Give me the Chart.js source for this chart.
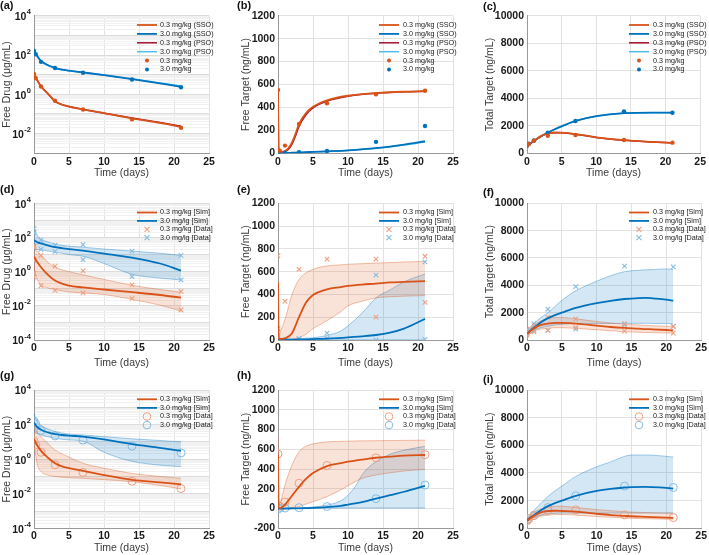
<!DOCTYPE html>
<html><head><meta charset="utf-8">
<script src="https://cdn.jsdelivr.net/npm/chart.js@4.4.1/dist/chart.umd.min.js"></script>
<style>
html,body{margin:0;padding:0;background:#fff;}
#wrap{position:relative;width:709px;height:555px;overflow:hidden;background:#fff;}
canvas{position:absolute;}
</style></head><body><div id="wrap">
<canvas id="ca" width="235" height="185" style="left:0;top:0"></canvas>
<canvas id="cb" width="235" height="185" style="left:235px;top:0"></canvas>
<canvas id="cc" width="239" height="185" style="left:470px;top:0"></canvas>
<canvas id="cd" width="235" height="185" style="left:0;top:185px"></canvas>
<canvas id="ce" width="235" height="185" style="left:235px;top:185px"></canvas>
<canvas id="cf" width="239" height="185" style="left:470px;top:185px"></canvas>
<canvas id="cg" width="235" height="185" style="left:0;top:370px"></canvas>
<canvas id="ch" width="235" height="185" style="left:235px;top:370px"></canvas>
<canvas id="ci" width="239" height="185" style="left:470px;top:370px"></canvas>
</div>
<script>
// ---------------- DATA ----------------
const xTickVals = [0, 5, 10, 15, 20, 25];
const targetTicks = [0, 200, 400, 600, 800, 1000, 1200];
const targetTicksH = [-200, 0, 200, 400, 600, 800, 1000, 1200];
const totalTicks = [0, 2000, 4000, 6000, 8000, 10000];
const logLabelExps = [4, 2, 0, -2, -4];

const panelLabels = ['(a)', '(b)', '(c)', '(d)', '(e)', '(f)', '(g)', '(h)', '(i)'];
const yTitles = ['Free Drug (\u03bcg/mL)', 'Free Target (ng/mL)', 'Total Target (ng/mL)'];
const xTitle = 'Time (days)';
const legendRow1 = ['0.3 mg/kg (SSO)', '3.0 mg/kg (SSO)', '0.3 mg/kg (PSO)', '3.0 mg/kg (PSO)', '0.3 mg/kg', '3.0 mg/kg'];
const legendRow2 = ['0.3 mg/kg [Sim]', '3.0 mg/lg [Sim]', '0.3 mg/kg [Data]', '3.0 mg/lg [Data]'];
const legendRow3 = ['0.3 mg/kg [Sim]', '3.0 mg/kg [Sim]', '0.3 mg/kg [Data]', '3.0 mg/kg [Data]'];

// observed mean data (rows 1 and 3)
const tObs = [0, 0.25, 1, 3, 7, 14, 21];
const drugObs03 = [11, 6.7, 2.5, 0.47, 0.17, 0.053, 0.02];
const drugObs30 = [160, 110, 45, 22, 12.6, 5.7, 2.3];
const freeObs03 = [552, 23, 67, 256, 436, 514, 546];
const freeObs30 = [0, 2, 5, 9, 20, 100, 238];
const totObs03 = [557, 680, 920, 1280, 1330, 970, 775];
const totObs30 = [557, 700, 930, 1500, 2350, 3050, 2950];

// (a)
const tA = [0, 0.25, 0.5, 1, 2, 3, 4, 5, 7, 10, 14, 18, 21];
const aSSO03 = [12, 7.5, 5, 2.6, 1.1, 0.45, 0.3, 0.24, 0.17, 0.11, 0.06, 0.035, 0.022];
const aSSO30 = [160, 115, 85, 50, 30, 22, 18, 16, 13, 9.5, 6, 3.6, 2.4];
const aPSO03 = [11.5, 7.2, 4.8, 2.5, 1.05, 0.44, 0.3, 0.24, 0.17, 0.11, 0.062, 0.037, 0.024];
const aPSO30 = [155, 110, 83, 49, 30, 22, 18, 16, 13, 9.7, 6.2, 3.8, 2.6];

// (b)
const tB = [0, 0.1, 0.5, 1, 1.5, 2, 2.5, 3, 4, 5, 7, 10, 14, 18, 21];
const bSSO03 = [550, 12, 12, 20, 45, 95, 170, 255, 350, 405, 462, 502, 525, 537, 542];
const bPSO03 = [550, 10, 10, 15, 35, 80, 150, 235, 335, 395, 455, 498, 523, 536, 541];
const bSSO30 = [0, 1, 2, 3, 4, 5, 6, 7, 10, 12, 17, 26, 45, 75, 105];
const bPSO30 = [0, 1, 2, 3, 4, 5, 6, 7, 10, 12, 16, 25, 43, 72, 100];

// (c)
const tC = [0, 0.5, 1, 2, 3, 4, 5, 7, 10, 14, 18, 21];
const cSSO03 = [550, 720, 900, 1250, 1450, 1510, 1500, 1400, 1160, 950, 830, 760];
const cSSO30 = [550, 720, 900, 1220, 1500, 1750, 1960, 2350, 2700, 2920, 2960, 2950];
const cPSO03 = [550, 715, 890, 1240, 1440, 1500, 1490, 1390, 1150, 945, 825, 755];
const cPSO30 = [550, 715, 890, 1210, 1490, 1740, 1950, 2340, 2690, 2910, 2955, 2945];

// (d)
const tD = [0, 0.25, 0.5, 1, 2, 3, 4, 5, 7, 10, 14, 18, 21];
const dSim03 = [8, 5, 3.5, 1.8, 0.65, 0.3, 0.2, 0.15, 0.12, 0.09, 0.063, 0.043, 0.03];
const dHi03 = [33, 22, 15, 9, 3.5, 1.8, 1.3, 1.0, 0.65, 0.35, 0.16, 0.09, 0.063];
const dLo03 = [2, 0.6, 0.33, 0.17, 0.11, 0.09, 0.075, 0.065, 0.057, 0.046, 0.024, 0.011, 0.005];
const dSim30 = [70, 60, 52, 45, 34, 27, 24, 21, 17, 11.5, 6.6, 3, 1.15];
const dHi30 = [370, 200, 125, 80, 55, 41, 35, 31, 27, 21, 16, 12, 9];
const dLo30 = [21, 20, 20, 19, 16, 14, 12, 10, 8, 3, 0.7, 0.42, 0.33];
const dObsT03 = [0, 0, 0, 0, 0, 1, 1, 3, 3, 7, 7, 14, 14, 21, 21];
const dObs03 = [33, 25, 4.6, 0.8, 0.48, 9, 0.15, 2.1, 0.08, 1.1, 0.057, 0.17, 0.027, 0.07, 0.0057];
const dObsT30 = [0, 0, 0, 1, 1, 3, 3, 7, 7, 14, 14, 21, 21];
const dObs30 = [330, 190, 29, 70, 20, 36, 15, 38, 5, 16, 0.52, 9, 0.33];

// (e)
const tE = [0, 0.1, 0.5, 1, 2, 3, 4, 5, 6, 7, 9, 10, 12, 14, 16, 18, 21];
const eSim03 = [510, 10, 10, 15, 60, 200, 330, 395, 425, 445, 465, 475, 487, 495, 505, 510, 517];
const eHi03 = [520, 40, 100, 180, 400, 530, 590, 620, 640, 650, 660, 665, 670, 675, 680, 685, 690];
const eLo03 = [0, 0, 0, 0, 5, 20, 50, 100, 135, 170, 250, 300, 340, 370, 380, 385, 390];
const eSim30 = [0, 0, 1, 2, 3, 5, 6, 8, 10, 12, 18, 23, 32, 44, 65, 100, 185];
const eHi30 = [0, 0, 2, 4, 8, 12, 16, 20, 28, 40, 80, 125, 235, 370, 440, 510, 580];
const eLo30 = [2, 2, 2, 2, 2, 2, 2, 2, 2, 2, 2, 2, 2, 2, 2, 2, 2];
const eObsT03 = [0, 0, 0, 1, 3, 7, 14, 14, 21, 21];
const eObs03 = [740, 100, 20, 340, 620, 710, 710, 200, 735, 330];
const eObsT30 = [0, 0, 1, 3, 3, 7, 7, 14, 14, 21, 21];
const eObs30 = [0, 5, 0, 5, 15, 60, 15, 570, 0, 685, 5];

// (f)
const tF = [0, 0.5, 1, 2, 3, 4, 5, 7, 10, 12, 14, 16, 17, 18, 20, 21];
const fSim03 = [450, 650, 850, 1100, 1200, 1260, 1250, 1200, 1050, 950, 880, 830, 800, 780, 730, 700];
const fHi03 = [700, 900, 1100, 1400, 1550, 1650, 1650, 1550, 1350, 1250, 1150, 1100, 1070, 1050, 1010, 1000];
const fLo03 = [300, 480, 650, 800, 850, 900, 900, 850, 750, 680, 600, 570, 550, 540, 510, 500];
const fSim30 = [450, 700, 900, 1300, 1600, 1820, 2000, 2350, 2700, 2870, 3000, 3070, 3080, 3050, 2950, 2880];
const fHi30 = [700, 950, 1200, 1650, 2000, 2450, 2900, 3600, 4300, 4700, 5000, 5100, 5130, 5150, 5200, 5150];
const fLo30 = [300, 500, 700, 900, 1000, 1100, 1150, 1200, 1200, 1210, 1220, 1220, 1220, 1210, 1200, 1200];
const fObsT03 = [0, 0, 0, 1, 1, 3, 3, 7, 7, 14, 14, 21, 21];
const fObs03 = [800, 450, 350, 600, 1050, 1650, 700, 1550, 900, 1200, 650, 1000, 500];
const fObsT30 = [0, 0, 1, 1, 3, 3, 7, 7, 14, 14, 21, 21];
const fObs30 = [700, 600, 1200, 700, 2250, 700, 3900, 800, 5400, 1100, 5350, 1000];

// (g)
const tG = [0, 0.25, 0.5, 1, 2, 3, 4, 5, 7, 10, 14, 18, 21];
const gSim03 = [15, 9, 6, 3, 1.2, 0.58, 0.38, 0.3, 0.21, 0.12, 0.063, 0.045, 0.035];
const gHi03 = [95, 50, 35, 20, 8, 3.4, 2, 1.3, 0.58, 0.3, 0.15, 0.1, 0.078];
const gLo03 = [6.6, 1.5, 0.46, 0.19, 0.12, 0.1, 0.09, 0.085, 0.078, 0.065, 0.05, 0.03, 0.019];
const gSim30 = [130, 90, 70, 50, 35, 28, 25, 23, 20, 14, 7.5, 4.5, 3];
const gHi30 = [450, 200, 140, 90, 55, 40, 33, 28, 25, 20, 15, 12, 10];
const gLo30 = [40, 33, 30, 25, 20, 16, 14, 13, 11, 2.5, 0.75, 0.45, 0.37];

// (h)
const tH = [0, 0.1, 0.3, 0.5, 1, 2, 3, 4, 5, 7, 9, 10, 11, 12, 13, 14, 16, 18, 21];
const hSim03 = [550, 5, 5, 10, 40, 130, 220, 300, 360, 430, 460, 474, 485, 495, 505, 514, 525, 535, 542];
const hHi03 = [720, 40, 60, 100, 240, 440, 575, 630, 655, 675, 680, 682, 684, 685, 686, 687, 688, 690, 692];
const hLo03 = [0, 0, 0, 0, 0, 10, 20, 45, 70, 120, 190, 231, 270, 305, 325, 340, 362, 380, 397];
const hSim30 = [0, 0, 0, 0, 0, 1, 2, 4, 6, 15, 28, 40, 52, 65, 82, 100, 135, 170, 230];
const hHi30 = [0, 0, 0, 0, 1, 3, 5, 10, 15, 35, 80, 135, 220, 340, 420, 475, 550, 590, 630];
const hLo30 = [5, 5, 5, 5, 5, 5, 5, 5, 5, 5, 5, 5, 5, 5, 5, 5, 5, 5, 5];

// (i)
const tI = [0, 0.5, 1, 2, 3, 4, 5, 7, 10, 12, 14, 15, 17, 19, 21];
const iSim03 = [550, 750, 900, 1150, 1250, 1270, 1250, 1200, 1050, 960, 900, 870, 830, 790, 750];
const iHi03 = [650, 900, 1150, 1400, 1550, 1600, 1600, 1500, 1350, 1270, 1200, 1170, 1140, 1110, 1100];
const iLo03 = [450, 600, 750, 880, 950, 990, 1000, 950, 850, 800, 750, 720, 690, 670, 650];
const iSim30 = [550, 780, 950, 1300, 1600, 1820, 2000, 2350, 2700, 2850, 2950, 2980, 3000, 2960, 2870];
const iHi30 = [650, 1000, 1300, 1800, 2300, 2700, 3050, 3750, 4450, 4800, 5200, 5300, 5300, 5250, 5150];
const iLo30 = [450, 650, 800, 950, 1050, 1080, 1100, 1100, 1100, 1100, 1100, 1100, 1100, 1100, 1100];

// ---------------- STYLE / LAYOUT ----------------
const ORANGE = '#D95319', BLUE = '#0072BD', PSO_RED = '#A2142F', PSO_CYAN = '#4DBEEE';
const LORANGE = '#EE9F80', LBLUE = '#86BBE2';
const FONT = '"Liberation Sans", Arial, Helvetica, sans-serif';
const COLS = [
  {left: 34, right: 26, titlePad: 1.2, lx: 0, x0: 137, x1: 157, tx: 160},
  {left: 43, right: 17, titlePad: 4.7, lx: 2, x0: 144, x1: 164, tx: 168},
  {left: 57, right: 7, titlePad: 13.7, lx: 13, x0: 159, x1: 179, tx: 183}
];
const ROWS = [
  {h: 185, top: 15.7, bottom: 153.3, tickPad: 3, titlePadB: 5.4, y0: 25, dy: 8.9, ly: [6, 6, 7]},
  {h: 185, top: 18.3, bottom: 155, tickPad: 2, titlePadB: 1, y0: 27.5, dy: 8.4, ly: [5, 5, 8]},
  {h: 185, top: 20, bottom: 158.3, tickPad: 2, titlePadB: 0.4, y0: 29.3, dy: 8.6, ly: [6, 6, 10]}
];

function isPow10(v) { const e = Math.round(Math.log10(v)); return Math.abs(v / Math.pow(10, e) - 1) < 1e-6; }
function logTickVals(minE, maxE) {
  const a = [];
  for (let e = minE; e < maxE; e++) for (let m = 1; m < 10; m++) a.push(m * Math.pow(10, e));
  a.push(Math.pow(10, maxE));
  return a;
}
const pts = (ts, vs) => ts.map((t, i) => ({x: t, y: vs[i]}));

function xScale(row) {
  return {
    type: 'linear', min: 0, max: 25,
    afterBuildTicks: s => { s.ticks = xTickVals.map(v => ({value: v})); },
    afterFit: s => { s.height = row.h - row.bottom; },
    grid: {color: '#e2e2e2', drawTicks: false, lineWidth: 1},
    border: {display: true, color: '#9a9a9a', width: 1},
    ticks: {padding: row.tickPad, color: '#1a1a1a', font: {family: FONT, size: 10.5, weight: 'bold'}, maxRotation: 0, autoSkip: false},
    title: {display: true, text: xTitle, color: '#3a3a3a', font: {family: FONT, size: 10.5}, padding: {top: 0, bottom: row.titlePadB}}
  };
}
function yScale(col, cfg) {
  const isLog = cfg.type === 'logarithmic';
  return {
    type: cfg.type, min: cfg.min, max: cfg.max,
    afterBuildTicks: s => { s.ticks = cfg.tickVals.map(v => ({value: v})); },
    afterFit: s => { s.width = col.left; },
    grid: {drawTicks: false, lineWidth: 1,
      color: c => { if (!isLog) return '#e2e2e2'; const v = c.tick ? c.tick.value : 1; return isPow10(v) ? '#dcdcdc' : '#f1f1f1'; }},
    border: {display: true, color: '#9a9a9a', width: 1},
    ticks: {padding: 3, autoSkip: false, color: '#1a1a1a', font: {family: FONT, size: 10.5, weight: 'bold'},
      callback: v => isLog ? '' : String(v)},
    title: {display: true, text: cfg.title, color: '#3a3a3a', font: {family: FONT, size: 10.5}, padding: {top: col.titlePad, bottom: 0}}
  };
}

const decoPlugin = {
  id: 'panelDeco',
  afterDraw(chart) {
    const o = chart.options.plugins.panelDeco;
    const ctx = chart.ctx;
    ctx.save();
    ctx.textBaseline = 'middle'; ctx.textAlign = 'left';
    // power-of-ten tick labels for log axes: "10" with a raised exponent
    const ys = chart.scales.y;
    if (ys.type === 'logarithmic') {
      logLabelExps.forEach(e => {
        const v = Math.pow(10, e);
        if (v < ys.min * 0.999 || v > ys.max * 1.001) return;
        const py = ys.getPixelForValue(v);
        const right = chart.chartArea.left - 3;
        ctx.font = 'bold 7.5px ' + FONT;
        const es = String(e);
        const we = ctx.measureText(es).width;
        ctx.font = 'bold 10.5px ' + FONT;
        const wb = ctx.measureText('10').width;
        ctx.fillStyle = '#1a1a1a';
        ctx.fillText('10', right - we - wb - 0.5, py + 1.5);
        ctx.font = 'bold 7.5px ' + FONT;
        ctx.fillText(es, right - we, py - 3.5);
      });
    }
    ctx.fillStyle = '#111';
    ctx.font = 'bold 11px ' + FONT;
    ctx.fillText(o.label, o.lx, o.ly);
    ctx.font = '7.2px ' + FONT;
    o.items.forEach((it, i) => {
      const y = o.y0 + i * o.dy;
      const cx = (o.x0 + o.x1) / 2;
      if (it.kind === 'line') {
        ctx.strokeStyle = it.color; ctx.lineWidth = it.w;
        ctx.beginPath(); ctx.moveTo(o.x0, y); ctx.lineTo(o.x1, y); ctx.stroke();
      } else if (it.kind === 'dot') {
        ctx.fillStyle = it.color; ctx.beginPath(); ctx.arc(cx, y, 2, 0, Math.PI * 2); ctx.fill();
      } else if (it.kind === 'x') {
        ctx.strokeStyle = it.color; ctx.lineWidth = 1.1;
        ctx.beginPath(); ctx.moveTo(cx - 2.5, y - 2.5); ctx.lineTo(cx + 2.5, y + 2.5);
        ctx.moveTo(cx - 2.5, y + 2.5); ctx.lineTo(cx + 2.5, y - 2.5); ctx.stroke();
      } else if (it.kind === 'circle') {
        ctx.strokeStyle = it.color; ctx.lineWidth = 1;
        ctx.beginPath(); ctx.arc(cx, y, 3.8, 0, Math.PI * 2); ctx.stroke();
      }
      ctx.fillStyle = '#1a1a1a';
      ctx.fillText(it.text, o.tx, y);
    });
    ctx.restore();
  }
};

function lineDs(data, color, w) {
  return {data, borderColor: color, backgroundColor: color, borderWidth: w, pointRadius: 0, fill: false, cubicInterpolationMode: 'monotone'};
}
function dotDs(data, color) {
  return {data, showLine: false, pointRadius: 2.2, pointBackgroundColor: color, pointBorderColor: color, pointBorderWidth: 0, borderColor: color, backgroundColor: color};
}
function xDs(data, color) {
  return {data, showLine: false, pointStyle: 'crossRot', pointRadius: 3.2, pointBorderColor: color, pointBorderWidth: 1.1, borderColor: color, backgroundColor: color};
}
function circDs(data, color) {
  return {data, showLine: false, pointStyle: 'circle', pointRadius: 4, pointBorderColor: color, pointBorderWidth: 1, pointBackgroundColor: 'rgba(0,0,0,0)', borderColor: color, backgroundColor: 'rgba(0,0,0,0)'};
}
function bandDs(hi, lo, rgb) {
  return [
    {data: hi, borderColor: 'rgba(' + rgb + ',0.45)', borderWidth: 0.8, pointRadius: 0, fill: '+1', backgroundColor: 'rgba(' + rgb + ',0.17)', cubicInterpolationMode: 'monotone'},
    {data: lo, borderColor: 'rgba(' + rgb + ',0.45)', borderWidth: 0.8, pointRadius: 0, fill: false, cubicInterpolationMode: 'monotone'}
  ];
}

function makePanel(id, ci, ri, ycfg, datasets, items, label) {
  const col = COLS[ci], row = ROWS[ri];
  new Chart(document.getElementById(id), {
    type: 'line',
    data: {datasets},
    options: {
      responsive: false, animation: false, devicePixelRatio: 1,
      layout: {padding: {left: 0, right: col.right, top: row.top, bottom: 0}},
      scales: {x: xScale(row), y: yScale(col, ycfg)},
      plugins: {legend: {display: false}, tooltip: {enabled: false},
        panelDeco: {label, lx: col.lx, ly: row.ly[ci], x0: col.x0, x1: col.x1, tx: col.tx, y0: row.y0, dy: row.dy, items}}
    },
    plugins: [decoPlugin]
  });
}

const items1 = [
  {text: legendRow1[0], kind: 'line', color: ORANGE, w: 1.8},
  {text: legendRow1[1], kind: 'line', color: BLUE, w: 1.8},
  {text: legendRow1[2], kind: 'line', color: PSO_RED, w: 1.5},
  {text: legendRow1[3], kind: 'line', color: PSO_CYAN, w: 1.5},
  {text: legendRow1[4], kind: 'dot', color: ORANGE},
  {text: legendRow1[5], kind: 'dot', color: BLUE}
];
const items2 = [
  {text: legendRow2[0], kind: 'line', color: ORANGE, w: 1.8},
  {text: legendRow2[1], kind: 'line', color: BLUE, w: 1.8},
  {text: legendRow2[2], kind: 'x', color: LORANGE},
  {text: legendRow2[3], kind: 'x', color: LBLUE}
];
const items3 = [
  {text: legendRow3[0], kind: 'line', color: ORANGE, w: 1.8},
  {text: legendRow3[1], kind: 'line', color: BLUE, w: 1.8},
  {text: legendRow3[2], kind: 'circle', color: LORANGE},
  {text: legendRow3[3], kind: 'circle', color: LBLUE}
];

const ORGB = '217,83,25', BRGB = '0,114,189';
const logA = {type: 'logarithmic', min: 1e-3, max: 1e4, tickVals: logTickVals(-3, 4), title: yTitles[0]};
const logD = {type: 'logarithmic', min: 1e-4, max: 1e4, tickVals: logTickVals(-4, 4), title: yTitles[0]};
const linB = {type: 'linear', min: 0, max: 1200, tickVals: targetTicks, title: yTitles[1]};
const linH = {type: 'linear', min: -200, max: 1200, tickVals: targetTicksH, title: yTitles[1]};
const linC = {type: 'linear', min: 0, max: 10000, tickVals: totalTicks, title: yTitles[2]};

// Row 1
function row1Sets(t, sso03, sso30, pso03, pso30, obs03, obs30) {
  return [dotDs(pts(tObs, obs03), ORANGE), dotDs(pts(tObs, obs30), BLUE),
    lineDs(pts(t, sso03), ORANGE, 1.8), lineDs(pts(t, sso30), BLUE, 1.8),
    lineDs(pts(t, pso03), PSO_RED, 1.5), lineDs(pts(t, pso30), PSO_CYAN, 1.5)];
}
makePanel('ca', 0, 0, logA, row1Sets(tA, aSSO03, aSSO30, aPSO03, aPSO30, drugObs03, drugObs30), items1, panelLabels[0]);
makePanel('cb', 1, 0, linB, row1Sets(tB, bSSO03, bSSO30, bPSO03, bPSO30, freeObs03, freeObs30), items1, panelLabels[1]);
makePanel('cc', 2, 0, linC, row1Sets(tC, cSSO03, cSSO30, cPSO03, cPSO30, totObs03, totObs30), items1, panelLabels[2]);

// Row 2
function row2Sets(t, s03, h03, l03, s30, h30, l30, ot03, o03, ot30, o30) {
  return [lineDs(pts(t, s03), ORANGE, 1.8), lineDs(pts(t, s30), BLUE, 1.8),
    xDs(pts(ot03, o03), LORANGE), xDs(pts(ot30, o30), LBLUE),
    ...bandDs(pts(t, h03), pts(t, l03), ORGB), ...bandDs(pts(t, h30), pts(t, l30), BRGB)];
}
makePanel('cd', 0, 1, logD, row2Sets(tD, dSim03, dHi03, dLo03, dSim30, dHi30, dLo30, dObsT03, dObs03, dObsT30, dObs30), items2, panelLabels[3]);
makePanel('ce', 1, 1, linB, row2Sets(tE, eSim03, eHi03, eLo03, eSim30, eHi30, eLo30, eObsT03, eObs03, eObsT30, eObs30), items2, panelLabels[4]);
makePanel('cf', 2, 1, linC, row2Sets(tF, fSim03, fHi03, fLo03, fSim30, fHi30, fLo30, fObsT03, fObs03, fObsT30, fObs30), items2, panelLabels[5]);

// Row 3
function row3Sets(t, s03, h03, l03, s30, h30, l30, o03, o30) {
  return [lineDs(pts(t, s03), ORANGE, 1.8), lineDs(pts(t, s30), BLUE, 1.8),
    circDs(pts(tObs, o03), LORANGE), circDs(pts(tObs, o30), LBLUE),
    ...bandDs(pts(t, h03), pts(t, l03), ORGB), ...bandDs(pts(t, h30), pts(t, l30), BRGB)];
}
makePanel('cg', 0, 2, logD, row3Sets(tG, gSim03, gHi03, gLo03, gSim30, gHi30, gLo30, drugObs03, drugObs30), items3, panelLabels[6]);
makePanel('ch', 1, 2, linH, row3Sets(tH, hSim03, hHi03, hLo03, hSim30, hHi30, hLo30, freeObs03, freeObs30), items3, panelLabels[7]);
makePanel('ci', 2, 2, linC, row3Sets(tI, iSim03, iHi03, iLo03, iSim30, iHi30, iLo30, totObs03, totObs30), items3, panelLabels[8]);
</script>
</body></html>
